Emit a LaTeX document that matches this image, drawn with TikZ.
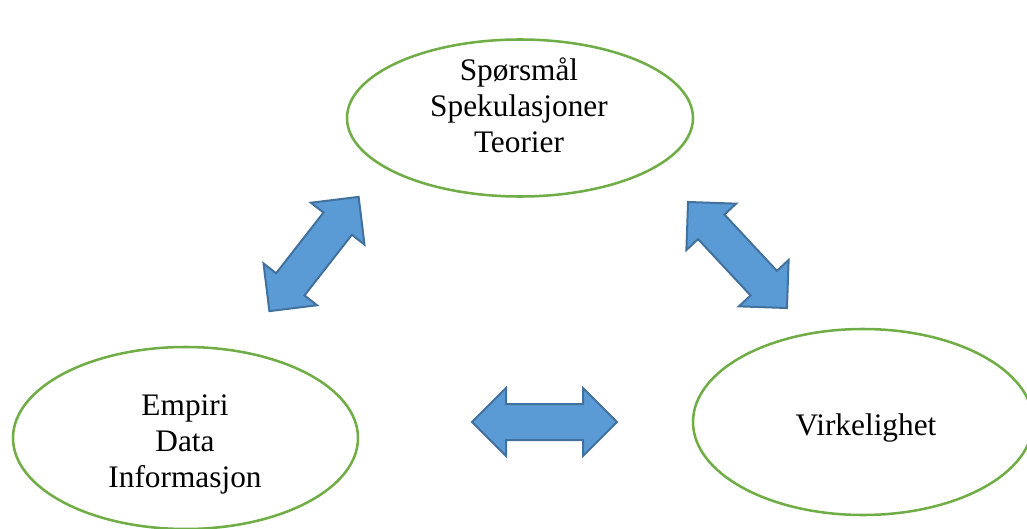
\documentclass[tikz,border=0pt]{standalone}
\usepackage{fontspec}
\setmainfont{Liberation Serif}
\usetikzlibrary{shapes.geometric, shapes.arrows}
\definecolor{ovalgreen}{RGB}{112,173,71}
\definecolor{arrowblue}{RGB}{91,155,213}
\definecolor{arrowedge}{RGB}{65,113,156}

\begin{document}
\begin{tikzpicture}[x=0.75pt,y=-0.75pt,
    oval/.style={ellipse,draw=ovalgreen,line width=1.9pt,inner sep=0pt},
    dblpil/.style={double arrow,draw=arrowedge,fill=arrowblue,line width=1.5pt,
        inner xsep=0pt,inner ysep=12.75pt,double arrow head extend=12pt,
        double arrow tip angle=90,minimum height=108.75pt,minimum width=49.5pt},
    tekst/.style={font=\fontsize{23.5}{27}\selectfont,align=center,inner sep=0pt}]
    \useasboundingbox (0,0) rectangle (1027,528);

    % Ovaler
    \node[oval,minimum width=259.5pt,minimum height=117.75pt] (teori) at (520,118) {};
    \node[tekst] at (519,105) {Spørsmål\\Spekulasjoner\\Teorier};

    \node[oval,minimum width=258.75pt,minimum height=136.5pt] (empiri) at (185.5,438) {};
    \node[tekst] at (185,444) {Empiri\\Data\\Informasjon};

    \node[oval,minimum width=255pt,minimum height=139.5pt] (virk) at (863,422) {};
    \node[tekst,anchor=base] at (866,435) {Virkelighet};

    % Doble piler
    \node[dblpil,rotate=52] (pilVenstre) at (314,254) {};
    \node[dblpil,rotate=-47] (pilHoyre) at (737.5,255) {};
    \node[dblpil] (pilNede) at (544.5,422) {};
\end{tikzpicture}
\end{document}
